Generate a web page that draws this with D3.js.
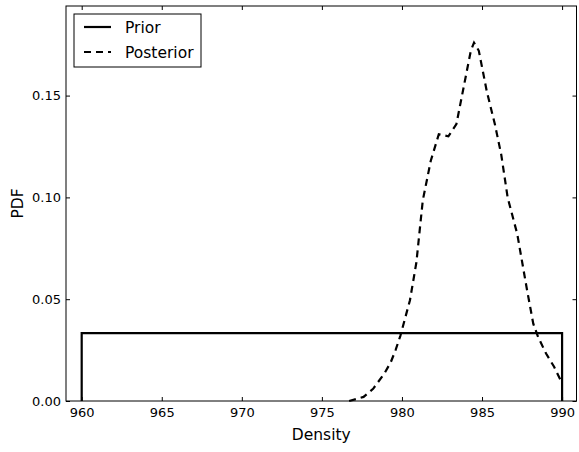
<!DOCTYPE html>
<html>
<head>
<meta charset="utf-8">
<script src="https://cdn.jsdelivr.net/npm/d3@7"></script>
<style>
  body { margin: 0; background: #fff; }
  svg { display: block; font-family: "DejaVu Sans", sans-serif; }
</style>
</head>
<body>
<div id="container"></div>
<script>
const WIDTH = 579;
const HEIGHT = 452;
const margin = { top: 6, right: 2.5, bottom: 51, left: 66 };

// prior: uniform on [960, 990]
const priorX = [960, 960, 990, 990];
const priorY = [0, 1 / 30, 1 / 30, 0];

// posterior density
const postX = [976.7, 977.6, 978.2, 978.9, 979.3, 979.6, 979.9, 980.5, 980.9, 981.3,
  981.8, 982.3, 982.9, 983.4, 983.9, 984.3, 984.5, 984.8, 985.3, 985.8,
  986.2, 986.6, 987.2, 987.8, 988.2, 988.5, 989.0, 989.5, 989.9, 990.0];
const postY = [0.000, 0.002, 0.006, 0.0135, 0.019, 0.025, 0.032, 0.0495, 0.068, 0.0985,
  0.118, 0.131, 0.130, 0.136, 0.156, 0.172, 0.176, 0.172, 0.152, 0.136,
  0.121, 0.100, 0.082, 0.055, 0.038, 0.0315, 0.0233, 0.0168, 0.0103, 0.009];

const xTicks = [960, 965, 970, 975, 980, 985, 990];
const yTicks = [0, 0.05, 0.1, 0.15];

const svg = d3
  .select("div#container")
  .append("svg")
  .attr("width", WIDTH)
  .attr("height", HEIGHT);

const xScale = d3
  .scaleLinear()
  .domain([959.02, 990.9])
  .range([margin.left, WIDTH - margin.right]);
const yScale = d3
  .scaleLinear()
  .domain([0, 0.194])
  .range([HEIGHT - margin.bottom, margin.top]);

const [x0, x1] = xScale.range();
const [y0, y1] = yScale.range();

// lines
const line = d3
  .line()
  .x((d) => xScale(d[0]))
  .y((d) => yScale(d[1]));

svg
  .append("path")
  .datum(priorX.map((x, i) => [x, priorY[i]]))
  .attr("d", line)
  .attr("fill", "none")
  .attr("stroke", "#000")
  .attr("stroke-width", 2.2);

svg
  .append("path")
  .datum(postX.map((x, i) => [x, postY[i]]))
  .attr("d", line)
  .attr("fill", "none")
  .attr("stroke", "#000")
  .attr("stroke-width", 2.2)
  .attr("stroke-dasharray", "7,5");

// axes, ticks pointing inward on all sides (matplotlib classic look)
const fmtX = d3.format("d");
const fmtY = d3.format(".2f");

svg
  .append("g")
  .attr("transform", `translate(0, ${y0})`)
  .call(d3.axisBottom(xScale).tickValues(xTicks).tickFormat(fmtX).tickSizeInner(-4).tickSizeOuter(0).tickPadding(7));
svg
  .append("g")
  .attr("transform", `translate(0, ${y1})`)
  .call(d3.axisTop(xScale).tickValues(xTicks).tickFormat("").tickSizeInner(-4).tickSizeOuter(0));
svg
  .append("g")
  .attr("transform", `translate(${x0}, 0)`)
  .call(d3.axisLeft(yScale).tickValues(yTicks).tickFormat(fmtY).tickSizeInner(-4).tickSizeOuter(0).tickPadding(5));
svg
  .append("g")
  .attr("transform", `translate(${x1}, 0)`)
  .call(d3.axisRight(yScale).tickValues(yTicks).tickFormat("").tickSizeInner(-4).tickSizeOuter(0));

svg.selectAll(".domain").remove();
svg.selectAll(".tick line").attr("stroke", "#000");
svg
  .selectAll(".tick text")
  .attr("fill", "#000")
  .style("font-size", "13px")
  .style("font-family", "DejaVu Sans");

svg
  .append("rect")
  .attr("x", x0)
  .attr("y", y1)
  .attr("width", x1 - x0)
  .attr("height", y0 - y1)
  .attr("fill", "none")
  .attr("stroke", "#000")
  .attr("stroke-width", 1);

// axis labels
svg
  .append("text")
  .attr("x", (x0 + x1) / 2)
  .attr("y", 440)
  .attr("text-anchor", "middle")
  .style("font-size", "15.5px")
  .text("Density");

svg
  .append("text")
  .attr("transform", `translate(23, ${(y0 + y1) / 2}) rotate(-90)`)
  .attr("text-anchor", "middle")
  .style("font-size", "15.5px")
  .text("PDF");

// legend
const legend = svg.append("g");
legend
  .append("rect")
  .attr("x", 74)
  .attr("y", 14)
  .attr("width", 127)
  .attr("height", 53)
  .attr("fill", "#fff")
  .attr("stroke", "#000")
  .attr("stroke-width", 1);

const entries = [
  { label: "Prior", dash: null, y: 27 },
  { label: "Posterior", dash: "7,5", y: 52 },
];
entries.forEach((e) => {
  legend
    .append("line")
    .attr("x1", 84)
    .attr("x2", 111)
    .attr("y1", e.y)
    .attr("y2", e.y)
    .attr("stroke", "#000")
    .attr("stroke-width", 2.2)
    .attr("stroke-dasharray", e.dash);
  legend
    .append("text")
    .attr("x", 125)
    .attr("y", e.y + 5.5)
    .style("font-size", "15.5px")
    .text(e.label);
});
</script>
</body>
</html>
